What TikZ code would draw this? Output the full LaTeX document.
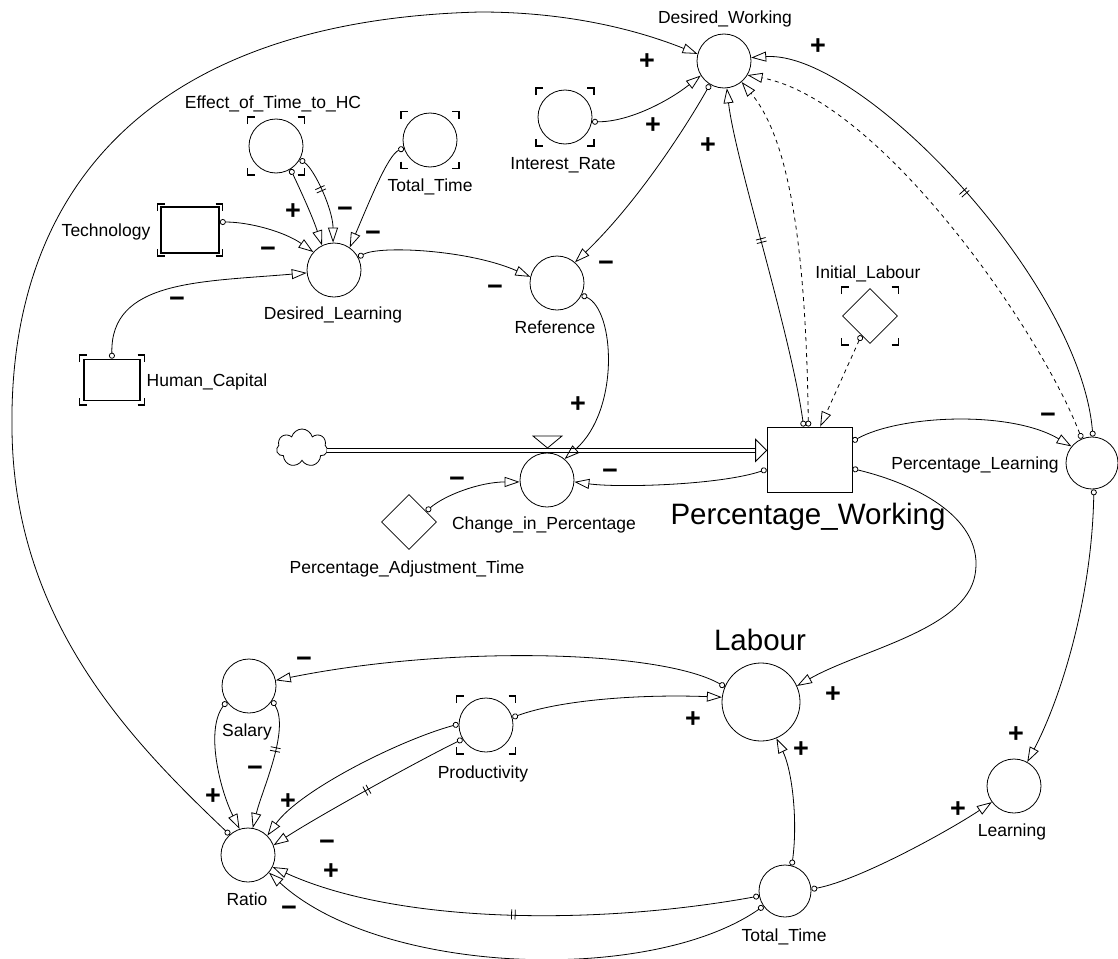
\documentclass[tikz,border=0pt]{standalone}
\usepackage{fontspec}
\setmainfont{Liberation Sans}
\usetikzlibrary{arrows.meta,shapes.geometric,shapes.symbols,decorations.markings}
\newcommand{\shadowmark}[3]{%
\draw[line width=1.5pt] ([shift={(-#2,-#3+7)}]#1.center) -- ([shift={(-#2,-#3)}]#1.center) -- ([shift={(-#2+7,-#3)}]#1.center)
 ([shift={(#2-7,-#3)}]#1.center) -- ([shift={(#2,-#3)}]#1.center) -- ([shift={(#2,-#3+7)}]#1.center)
 ([shift={(-#2,#3-7)}]#1.center) -- ([shift={(-#2,#3)}]#1.center) -- ([shift={(-#2+7,#3)}]#1.center)
 ([shift={(#2-7,#3)}]#1.center) -- ([shift={(#2,#3)}]#1.center) -- ([shift={(#2,#3-7)}]#1.center);}
\begin{document}
\begin{tikzpicture}[x=1pt,y=-1pt,line width=0.8pt,
  aux/.style={circle,draw,minimum size=54pt,inner sep=0pt},
  lbl/.style={font=\fontsize{17.5}{20}\selectfont,anchor=base,yshift=-6.3pt,inner sep=0pt},
  biglbl/.style={font=\fontsize{29.5}{34}\selectfont,anchor=base,yshift=-10.5pt,inner sep=0pt},
  sgn/.style={font=\fontsize{27}{30}\selectfont\bfseries,anchor=base,yshift=-9.5pt,inner sep=0pt},
  lnk/.style={{Circle[open,length=6pt]}-{Triangle[open,length=15pt,width=10pt]}},
  dsh/.style={dash pattern=on 4pt off 4pt},
  delaymark/.style={postaction={decorate,decoration={markings,mark=at position #1 with {\draw[solid,-,line width=0.8pt] (-1.8pt,-5pt)--(-1.8pt,5pt) (1.8pt,-5pt)--(1.8pt,5pt);}}}},
  boxv/.style={draw,line width=1.6pt,inner sep=0pt},
  dia/.style={diamond,draw,minimum width=55pt,minimum height=55pt,inner sep=0pt}
]
\useasboundingbox (0,0) rectangle (1118,958);

% ---------- nodes ----------
\node[aux] (DW) at (724,61) {};
\node[aux] (EH) at (276,146) {};
\node[aux] (TT1) at (430,140) {};
\node[aux] (IR) at (565,117) {};
\node[boxv,minimum width=58pt,minimum height=46pt] (Tech) at (190,230) {};
\node[aux] (DL) at (334,270) {};
\node[aux] (Ref) at (557,283) {};
\node[boxv,minimum width=56pt,minimum height=41pt] (HC) at (112,380) {};
\node[dia] (IL) at (870,316) {};
\node[draw,minimum width=85pt,minimum height=65pt,inner sep=0pt] (PW) at (809.5,459.5) {};
\node[cloud,draw,cloud puffs=7,aspect=1.3,minimum width=51pt,minimum height=38pt,inner sep=0pt] (Cld) at (302,448) {};
\node[aux] (CiP) at (547,480) {};
\node[dia] (PAT) at (409,522) {};
\node[aux,minimum size=52pt] (PL) at (1092,463) {};
\node[aux,minimum size=78pt] (Lab) at (761,702) {};
\node[aux] (Lrn) at (1014,786) {};
\node[aux,minimum size=52pt] (TT2) at (785,891) {};
\node[aux] (Sal) at (249,686) {};
\node[aux] (Prod) at (486,725) {};
\node[aux] (Rat) at (248,855) {};

% shadow brackets
\shadowmark{EH}{28.5}{29}
\shadowmark{TT1}{29}{28.5}
\shadowmark{IR}{29}{29}
\shadowmark{Tech}{32.5}{26}
\shadowmark{HC}{32.5}{25}
\shadowmark{IL}{28.5}{29}
\shadowmark{Prod}{29.5}{29}

% ---------- flow ----------
\draw[double,double distance=3pt] (Cld.east |- PW.168.7) -- ([xshift=-11pt]PW.168.7);
\draw[fill=white] (PW.168.7) -- ++(-11,-11) -- ++(0,22) -- cycle;
\draw[fill=white] (533,436) -- (562,436) -- (547.5,448) -- cycle;

% ---------- connectors ----------
\draw[lnk] (Rat.132) .. controls (130,740) and (14,620) .. (12,430) .. controls (8,180) and (160,20) .. (480,12) .. controls (580,12) and (650,35) .. (DW.165);
\draw[lnk] (IR.-10) .. controls (630,122) and (670,100) .. (DW.212);
\draw[lnk] (DW.239) .. controls (690,120) and (640,200) .. (Ref.49);
\draw[lnk,delaymark=0.55] (PW.100) .. controls (790,330) and (735,160) .. (DW.276);
\draw[lnk,dsh] (PW.92) .. controls (806,250) and (790,140) .. (DW.310);
\draw[lnk,delaymark=0.52] (PL.88) .. controls (1080,280) and (860,50) .. (DW.7);
\draw[lnk,dsh] (PL.113) .. controls (1040,330) and (880,100) .. (DW.329);
\draw[lnk,dsh] (IL.-114) -- (PW.72);
\draw[lnk] (PW.23.5) .. controls (900,415) and (1010,410) .. (PL.141);
\draw[lnk] (PW.-12.6) .. controls (920,485) and (985,520) .. (975,575) .. controls (965,630) and (860,650) .. (Lab.24);
\draw[lnk] (PW.193.9) .. controls (720,485) and (620,488) .. (CiP.-4);
\draw[lnk] (PAT.32) .. controls (445,495) and (480,482) .. (CiP.184);
\draw[lnk] (Ref.-26.6) .. controls (615,310) and (620,410) .. (CiP.50);
\draw[lnk] (DL.28) .. controls (380,245) and (470,250) .. (Ref.167);
\draw[lnk] (Tech.15) .. controls (250,222) and (285,232) .. (DL.139);
\draw[lnk] (HC.north) .. controls (110,280) and (200,282) .. (DL.186);
\draw[lnk] (EH.-58) .. controls (298,185) and (312,215) .. (DL.116);
\draw[lnk,delaymark=0.4] (EH.-29.5) .. controls (315,170) and (333,210) .. (DL.92);
\draw[lnk] (TT1.197) .. controls (388,155) and (370,200) .. (DL.55);
\draw[lnk] (Lab.157) .. controls (660,650) and (450,645) .. (Sal.12.5);
\draw[lnk] (Prod.16.5) .. controls (560,700) and (640,694) .. (Lab.173);
\draw[lnk] (TT2.75) .. controls (798,820) and (792,770) .. (Lab.293);
\draw[lnk] (TT2.4) .. controls (860,880) and (950,830) .. (Lrn.216);
\draw[lnk] (PL.274) .. controls (1092,600) and (1060,700) .. (Lrn.61.5);
\draw[lnk,delaymark=0.5] (TT2.191) .. controls (600,925) and (400,925) .. (Rat.334);
\draw[lnk] (TT2.215.5) .. controls (650,985) and (380,975) .. (Rat.320);
\draw[lnk] (Prod.178) .. controls (400,740) and (300,790) .. (Rat.45);
\draw[lnk,delaymark=0.5] (Prod.211) .. controls (420,760) and (320,815) .. (Rat.21);
\draw[lnk] (Sal.215) .. controls (205,730) and (220,790) .. (Rat.108);
\draw[lnk,delaymark=0.38] (Sal.328) .. controls (290,730) and (262,790) .. (Rat.80);

% ---------- labels ----------
\node[lbl] (lDW) at (725,17) {Desired\_Working};
\node[lbl] (lEH) at (273,102) {Effect\_of\_Time\_to\_HC};
\node[lbl] (lTT1) at (430,185) {Total\_Time};
\node[lbl] (lIR) at (563,163) {Interest\_Rate};
\node[lbl] (lTech) at (106,230) {Technology};
\node[lbl] (lDL) at (333,313) {Desired\_Learning};
\node[lbl] (lRef) at (555,327) {Reference};
\node[lbl] (lHC) at (207,380) {Human\_Capital};
\node[lbl] (lIL) at (868,272) {Initial\_Labour};
\node[biglbl] (lPW) at (808,514) {Percentage\_Working};
\node[lbl] (lCiP) at (544,523) {Change\_in\_Percentage};
\node[lbl] (lPAT) at (407,567) {Percentage\_Adjustment\_Time};
\node[lbl] (lPL) at (975,463) {Percentage\_Learning};
\node[biglbl] (lLab) at (760,640) {Labour};
\node[lbl] (lSal) at (247,730) {Salary};
\node[lbl] (lProd) at (483,772) {Productivity};
\node[lbl] (lRat) at (247,899) {Ratio};
\node[lbl] (lLrn) at (1012,830) {Learning};
\node[lbl] (lTT2) at (784,935) {Total\_Time};

% ---------- polarity signs ----------
\node[sgn] (s1) at (647,60) {+};
\node[sgn] (s2) at (818,45) {+};
\node[sgn] (s3) at (653,124) {+};
\node[sgn] (s4) at (708,144) {+};
\node[sgn] (s5) at (606,262) {−};
\node[sgn] (s6) at (495,286) {−};
\node[sgn] (s7) at (268,248) {−};
\node[sgn] (s8) at (177,298) {−};
\node[sgn] (s9) at (293,210) {+};
\node[sgn] (s10) at (345,208) {−};
\node[sgn] (s11) at (373,232) {−};
\node[sgn] (s12) at (578,403) {+};
\node[sgn] (s13) at (457,478) {−};
\node[sgn] (s14) at (610,470) {−};
\node[sgn] (s15) at (1048,414) {−};
\node[sgn] (s16) at (833,693) {+};
\node[sgn] (s17) at (304,658) {−};
\node[sgn] (s18) at (693,718) {+};
\node[sgn] (s19) at (801,748) {+};
\node[sgn] (s20) at (1016,733) {+};
\node[sgn] (s21) at (958,808) {+};
\node[sgn] (s22) at (331,870) {+};
\node[sgn] (s23) at (289,907) {−};
\node[sgn] (s24) at (288,800) {+};
\node[sgn] (s25) at (327,841) {−};
\node[sgn] (s26) at (213,795) {+};
\node[sgn] (s27) at (255,767) {−};
\end{tikzpicture}
\end{document}
